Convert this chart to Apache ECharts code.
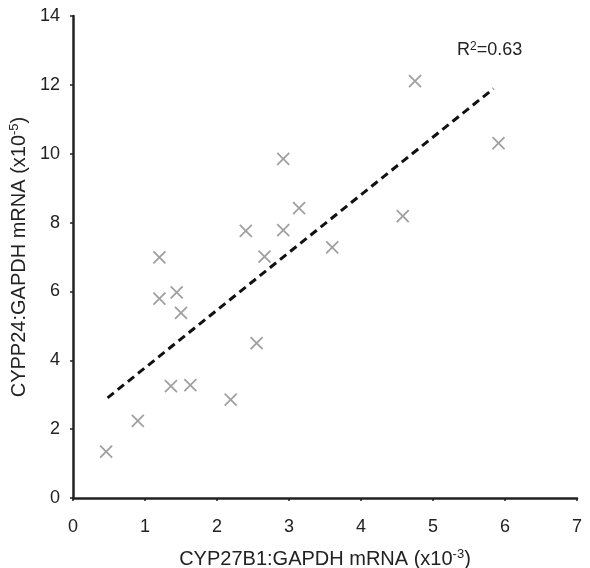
<!DOCTYPE html>
<html>
<head>
<meta charset="utf-8">
<script src="https://cdn.jsdelivr.net/npm/echarts@6/dist/echarts.min.js"></script>
<style>html,body{margin:0;padding:0;background:#fff;}#c{width:590px;height:568px;}</style>
</head>
<body>
<div id="c"></div>
<script>
const xValues = [0.46, 0.90, 1.20, 1.20, 1.44, 1.50, 1.36, 1.63, 2.19, 2.55, 2.66, 3.60, 2.92, 3.14, 2.92, 2.40, 4.75, 5.91, 4.58];
const yValues = [1.35, 2.24, 6.99, 5.79, 5.97, 5.38, 3.25, 3.28, 2.86, 4.50, 7.01, 7.28, 9.85, 8.42, 7.78, 7.76, 12.11, 10.31, 8.19];
const trendX = [0.48, 5.84];
const trendY = [2.91, 11.89];
const xTicks = [0, 1, 2, 3, 4, 5, 6, 7];
const yTicks = [0, 2, 4, 6, 8, 10, 12, 14];

const font = 'Liberation Sans, Arial, sans-serif';
const textColor = '#222';
const chart = echarts.init(document.getElementById('c'));
const points = xValues.map((x, i) => [x, yValues[i]]);
const trend = trendX.map((x, i) => [x, trendY[i]]);

chart.setOption({
  animation: false,
  grid: { left: 73, right: 13, top: 16, bottom: 70, containLabel: false, outerBoundsMode: 'none' },
  xAxis: {
    type: 'value', min: xTicks[0], max: xTicks[xTicks.length - 1], interval: 1,
    splitLine: { show: false },
    axisLine: { lineStyle: { color: '#222', width: 2.5 } },
    axisTick: { show: true, length: 3, lineStyle: { color: '#222', width: 1.5 } },
    axisLabel: { fontFamily: font, fontSize: 18, color: textColor, margin: 20 },
    name: '{a|CYP27B1:GAPDH mRNA (x10}{s|-3}{a|)}',
    nameLocation: 'middle', nameGap: 50,
    nameTextStyle: {
      rich: {
        a: { fontFamily: font, fontSize: 20, color: textColor },
        s: { fontFamily: font, fontSize: 13, color: textColor, verticalAlign: 'top', padding: [0, 0, 9, 0] }
      }
    }
  },
  yAxis: {
    type: 'value', min: yTicks[0], max: yTicks[yTicks.length - 1], interval: 2,
    splitLine: { show: false },
    axisLine: { lineStyle: { color: '#222', width: 2.5 } },
    axisTick: { show: true, length: 3, lineStyle: { color: '#222', width: 1.5 } },
    axisLabel: { fontFamily: font, fontSize: 18, color: textColor, margin: 13 },
    name: '{a|CYPP24:GAPDH mRNA (x10}{s|-5}{a|)}',
    nameLocation: 'middle', nameGap: 36,
    nameTextStyle: {
      rich: {
        a: { fontFamily: font, fontSize: 20, color: textColor },
        s: { fontFamily: font, fontSize: 13, color: textColor, verticalAlign: 'top', padding: [0, 0, 9, 0] }
      }
    }
  },
  series: [
    {
      type: 'line',
      data: trend,
      symbol: 'none',
      lineStyle: { color: '#111', width: 3, type: [8, 5] },
      z: 2
    },
    {
      type: 'scatter',
      data: points,
      symbol: 'path://M0,0L10,10M10,0L0,10',
      symbolSize: 12,
      itemStyle: { color: 'rgba(0,0,0,0)', borderColor: '#888', borderWidth: 1.8 },
      z: 3
    }
  ],
  graphic: [{
    type: 'text',
    left: 457, top: 41,
    style: {
      text: '{a|R}{s|2}{a|=0.63}',
      rich: {
        a: { fontFamily: font, fontSize: 18, fill: textColor },
        s: { fontFamily: font, fontSize: 12, fill: textColor, verticalAlign: 'top', padding: [0, 0, 6, 0] }
      }
    }
  }]
});
</script>
</body>
</html>
